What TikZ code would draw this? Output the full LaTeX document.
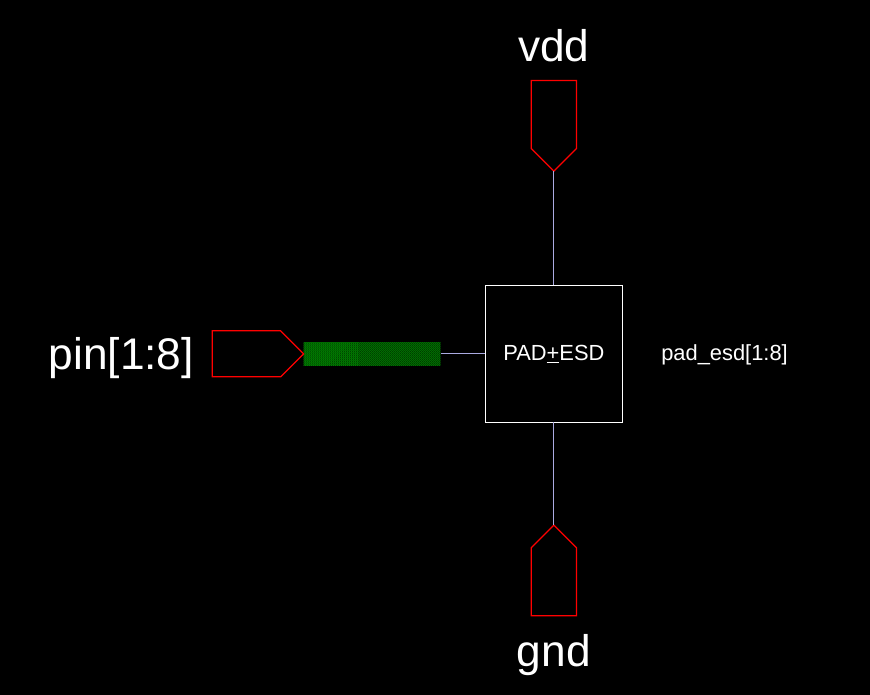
\documentclass[tikz,border=0pt]{standalone}
\usepackage{fontspec}
\setmainfont{Liberation Sans}
\usetikzlibrary{positioning,shapes.symbols,patterns.meta}

\begin{document}
\begin{tikzpicture}[
    x=0.75pt,
    y=-0.75pt,
    node distance=33.6pt,
    wire/.style={draw={rgb,255:red,170;green,170;blue,225}, line width=0.8pt},
    pinport/.style={
        signal,
        signal to=#1,
        draw=red,
        line width=0.9pt,
        inner sep=0pt,
        outer sep=0pt
    },
    cellbox/.style={
        draw=white,
        line width=0.9pt,
        text=white,
        font=\fontsize{16.4pt}{18pt}\selectfont,
        minimum width=102.7pt,
        minimum height=103pt,
        inner sep=0pt,
        outer sep=0pt
    },
    busbar/.style={
        fill=black,
        postaction={pattern={Dots[distance=1.06pt, radius=0.5pt, angle=45]}, pattern color=green},
        minimum width=102.75pt,
        minimum height=17.6pt,
        inner sep=0pt,
        outer sep=0pt
    },
    bigtext/.style={text=white, font=\fontsize{33.2pt}{36pt}\selectfont, inner sep=0pt, outer sep=0pt},
    smalltext/.style={text=white, font=\fontsize{16.4pt}{18pt}\selectfont, inner sep=0pt, outer sep=0pt}
]

\fill[black] (0,0) rectangle (870,695);

\node[cellbox] (padesd) at (553.9,353.8) {PAD\underline{+}ESD};
\node[smalltext, right=29.2pt of padesd, yshift=-1pt] (cellname) {pad\_esd[1:8]};

\node[busbar, left=of padesd] (bus) {};
\node[pinport=east, minimum width=68.5pt, minimum height=34.5pt, left=0pt of bus] (pinin) {};
\node[bigtext, left=13.8pt of pinin, yshift=-3pt] (pinlabel) {pin[1:8]};

\node[pinport=south, minimum width=34pt, minimum height=51pt, above=85.5pt of padesd] (vdd) {};
\node[bigtext, above=14pt of vdd] (vddlabel) {vdd};

\node[pinport=north, minimum width=34pt, minimum height=51pt, below=77pt of padesd] (gnd) {};
\node[bigtext, below=14pt of gnd] (gndlabel) {gnd};

\draw[wire] (vdd) -- (padesd);
\draw[wire] (gnd) -- (padesd);
\draw[wire] (bus) -- (padesd);

\end{tikzpicture}
\end{document}
